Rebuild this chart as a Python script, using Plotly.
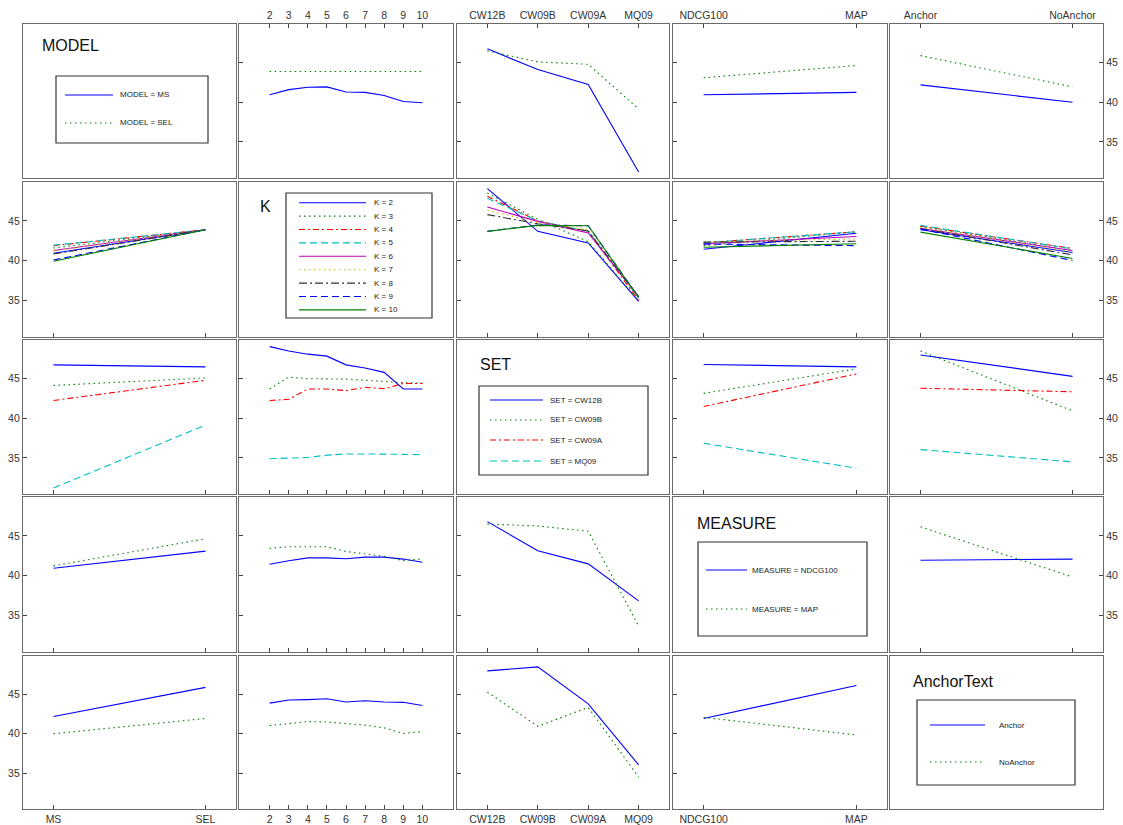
import plotly.graph_objects as go

W, H = 1123, 825

# ---------------- data ----------------
FACTORS = ["MODEL", "K", "SET", "MEASURE", "AnchorText"]
MODEL_LEVELS = ["MS", "SEL"]
K_LEVELS = [2, 3, 4, 5, 6, 7, 8, 9, 10]
SET_LEVELS = ["CW12B", "CW09B", "CW09A", "MQ09"]
MEASURE_LEVELS = ["NDCG100", "MAP"]
ANCHOR_LEVELS = ["Anchor", "NoAnchor"]

# MODEL x K  (rows: MODEL levels, cols: K levels)
MODEL_K_MS = [40.95, 41.6, 41.9, 41.95, 41.3, 41.25, 40.85, 40.1, 39.95]
MODEL_K_SEL = [43.9, 43.9, 43.9, 43.9, 43.9, 43.9, 43.9, 43.9, 43.9]
# MODEL x SET
MODEL_SET_MS = [46.75, 44.15, 42.25, 31.2]
MODEL_SET_SEL = [46.5, 45.1, 44.8, 39.15]
# MODEL x MEASURE
MODEL_MEASURE_MS = [40.95, 41.25]
MODEL_MEASURE_SEL = [43.1, 44.65]
# MODEL x AnchorText
MODEL_ANCHOR_MS = [42.2, 40.0]
MODEL_ANCHOR_SEL = [45.9, 41.95]
# SET x K (rows: SET levels, cols: K levels)
SET_K_CW12B = [49.05, 48.5, 48.1, 47.85, 46.75, 46.35, 45.8, 43.7, 43.7]
SET_K_CW09B = [43.7, 45.2, 45.0, 45.0, 44.95, 44.8, 44.65, 44.5, 44.45]
SET_K_CW09A = [42.25, 42.4, 43.7, 43.7, 43.5, 43.9, 43.75, 44.4, 44.4]
SET_K_MQ09 = [34.9, 34.95, 35.05, 35.35, 35.5, 35.5, 35.5, 35.45, 35.4]
# MEASURE x K
MEASURE_K_NDCG100 = [41.45, 41.9, 42.25, 42.25, 42.15, 42.35, 42.35, 42.1, 41.7]
MEASURE_K_MAP = [43.45, 43.65, 43.65, 43.65, 43.05, 42.75, 42.45, 41.9, 42.15]
# AnchorText x K
ANCHOR_K_ANCHOR = [43.9, 44.3, 44.35, 44.45, 44.05, 44.2, 44.05, 44.0, 43.6]
ANCHOR_K_NOANCHOR = [41.05, 41.3, 41.55, 41.5, 41.3, 41.1, 40.75, 40.05, 40.3]
# SET x MEASURE (rows: SET, cols: MEASURE)
SET_MEASURE_CW12B = [46.8, 46.5]
SET_MEASURE_CW09B = [43.15, 46.25]
SET_MEASURE_CW09A = [41.5, 45.6]
SET_MEASURE_MQ09 = [36.85, 33.7]
# SET x AnchorText
SET_ANCHOR_CW12B = [48.0, 45.3]
SET_ANCHOR_CW09B = [48.5, 40.95]
SET_ANCHOR_CW09A = [43.8, 43.35]
SET_ANCHOR_MQ09 = [36.05, 34.5]
# MEASURE x AnchorText
MEASURE_ANCHOR_NDCG100 = [41.95, 42.1]
MEASURE_ANCHOR_MAP = [46.15, 39.85]

Y_TICKS = [35, 40, 45]

LEVELS = [MODEL_LEVELS, K_LEVELS, SET_LEVELS, MEASURE_LEVELS, ANCHOR_LEVELS]
TABLES = {
    (0, 1): [MODEL_K_MS, MODEL_K_SEL],
    (0, 2): [MODEL_SET_MS, MODEL_SET_SEL],
    (0, 3): [MODEL_MEASURE_MS, MODEL_MEASURE_SEL],
    (0, 4): [MODEL_ANCHOR_MS, MODEL_ANCHOR_SEL],
    (2, 1): [SET_K_CW12B, SET_K_CW09B, SET_K_CW09A, SET_K_MQ09],
    (3, 1): [MEASURE_K_NDCG100, MEASURE_K_MAP],
    (4, 1): [ANCHOR_K_ANCHOR, ANCHOR_K_NOANCHOR],
    (2, 3): [SET_MEASURE_CW12B, SET_MEASURE_CW09B, SET_MEASURE_CW09A, SET_MEASURE_MQ09],
    (2, 4): [SET_ANCHOR_CW12B, SET_ANCHOR_CW09B, SET_ANCHOR_CW09A, SET_ANCHOR_MQ09],
    (3, 4): [MEASURE_ANCHOR_NDCG100, MEASURE_ANCHOR_MAP],
}


def get_table(r, c):
    if (r, c) in TABLES:
        return TABLES[(r, c)]
    t = TABLES[(c, r)]
    return [[t[j][i] for j in range(len(t))] for i in range(len(t[0]))]


# ---------------- styles ----------------
BLUE, GREEN, RED, CYAN, MAG, YEL, BLK = "#0000ff", "#008000", "#ff0000", "#00bfbf", "#bf00bf", "#bfbf00", "#333333"
DOT = "1.5px,3.5px"
DASH = "7px,4px"
DASHDOT = "6px,3px,2px,3px"
LDASHDOT = "8px,3px,2px,3px"
STYLE_CYCLE = [(BLUE, "solid"), (GREEN, DOT), (RED, DASHDOT), (CYAN, DASH), (MAG, "solid"),
               (YEL, DOT), (BLK, LDASHDOT), (BLUE, DASH), (GREEN, "solid")]

COLS = [(23, 236), (239, 453), (457, 669), (673, 887), (890, 1103)]
ROWS = [(24, 178), (182, 337), (340, 494), (497, 652), (656, 809)]
Y_RANGE = [30.44, 49.89]
FONT = "Liberation Sans, Arial, sans-serif"
FRAME = "#6a6a6a"


def pxx(x):
    return x / W


def pxy(y):
    return 1 - y / H


fig = go.Figure()
layout = dict(width=W, height=H, margin=dict(l=0, r=0, t=0, b=0), autosize=False,
              paper_bgcolor="white", plot_bgcolor="white", showlegend=False,
              font=dict(family=FONT, size=10, color="#333333"))

for r in range(5):
    for c in range(5):
        n = r * 5 + c + 1
        xa = "xaxis" if n == 1 else f"xaxis{n}"
        ya = "yaxis" if n == 1 else f"yaxis{n}"
        xr = "x" if n == 1 else f"x{n}"
        yr = "y" if n == 1 else f"y{n}"
        xdom = [pxx(COLS[c][0]), pxx(COLS[c][1])]
        ydom = [pxy(ROWS[r][1]), pxy(ROWS[r][0])]
        base = dict(showline=True, mirror=True, linecolor=FRAME, linewidth=1.3,
                    showgrid=False, zeroline=False, fixedrange=True)
        if r == c:
            layout[xa] = dict(base, domain=xdom, range=[0, 1], showticklabels=False, ticks="",
                              anchor=yr)
            layout[ya] = dict(base, domain=ydom, range=[0, 1], showticklabels=False, ticks="",
                              anchor=xr)
            # empty trace so the (frame-only) diagonal subplot is created
            fig.add_trace(go.Scatter(x=[], y=[], xaxis=xr, yaxis=yr, hoverinfo="skip",
                                     mode="lines"))
            continue
        # x axis
        levs = LEVELS[c]
        nl = len(levs)
        a = 30.5 * (nl - 1) / (213 - 61)
        if c == 1:
            xcfg = dict(type="linear", range=[2 - a, 10 + a], tickvals=K_LEVELS,
                        ticktext=[str(k) for k in K_LEVELS])
        else:
            xcfg = dict(type="category", categoryorder="array", categoryarray=levs,
                        range=[-a, nl - 1 + a])
        show_x = (r == 0) or (r == 4)
        layout[xa] = dict(base, domain=xdom, anchor=yr, ticks="inside", ticklen=4,
                          tickcolor="#444444", showticklabels=show_x,
                          side="top" if r == 0 else "bottom",
                          tickfont=dict(size=10.5, color="#333333", family=FONT), **xcfg)
        show_y = (c == 0) or (c == 4)
        layout[ya] = dict(base, domain=ydom, anchor=xr, range=Y_RANGE, tickvals=Y_TICKS,
                          ticks="inside", ticklen=4, tickcolor="#444444",
                          showticklabels=show_y, side="right" if c == 4 else "left",
                          tickfont=dict(size=10.5, color="#333333", family=FONT))
        table = get_table(r, c)
        for i, lev in enumerate(LEVELS[r]):
            col, dash = STYLE_CYCLE[i]
            fig.add_trace(go.Scatter(x=levs, y=table[i], mode="lines", xaxis=xr, yaxis=yr,
                                     line=dict(color=col, width=1.1, dash=dash),
                                     name=f"{FACTORS[r]} = {lev}", hoverinfo="x+y+name"))

# ---------------- diagonal labels and legends ----------------
shapes = []
annotations = []
DIAG = [
    dict(title=(40, 45), box=(56, 76, 208, 143), ys=[95, 123], lx=(65, 113), tx=118,
         labels=[f"MODEL = {v}" for v in MODEL_LEVELS]),
    dict(title=(258, 206), box=(286, 193, 432, 318),
         ys=[202.7 + i * 13.4 for i in range(len(K_LEVELS))], lx=(299, 366), tx=372,
         labels=[f"K = {v}" for v in K_LEVELS]),
    dict(title=(478, 365), box=(479, 386, 648, 475), ys=[400, 420, 440, 461], lx=(490, 543),
         tx=548, labels=[f"SET = {v}" for v in SET_LEVELS]),
    dict(title=(695, 523), box=(698, 542, 867, 636), ys=[570, 609], lx=(706, 747), tx=750,
         labels=[f"MEASURE = {v}" for v in MEASURE_LEVELS]),
    dict(title=(911, 681), box=(917, 700, 1075, 785), ys=[725, 762], lx=(930, 985), tx=997,
         labels=list(ANCHOR_LEVELS)),
]
for k, d in enumerate(DIAG):
    tx, ty = d["title"]
    annotations.append(dict(x=pxx(tx), y=pxy(ty), xref="paper", yref="paper", text=FACTORS[k],
                            showarrow=False, xanchor="left", yanchor="middle",
                            font=dict(size=16, color="#111111", family=FONT)))
    x0, y0, x1, y1 = d["box"]
    shapes.append(dict(type="rect", xref="paper", yref="paper", x0=pxx(x0), x1=pxx(x1),
                       y0=pxy(y1), y1=pxy(y0), line=dict(color="#333333", width=1.2)))
    for i, (yy, lab) in enumerate(zip(d["ys"], d["labels"])):
        col, dash = STYLE_CYCLE[i]
        shapes.append(dict(type="line", xref="paper", yref="paper", x0=pxx(d["lx"][0]),
                           x1=pxx(d["lx"][1]), y0=pxy(yy), y1=pxy(yy),
                           line=dict(color=col, width=1.1, dash=dash)))
        annotations.append(dict(x=pxx(d["tx"]), y=pxy(yy), xref="paper", yref="paper", text=lab,
                                showarrow=False, xanchor="left", yanchor="middle",
                                font=dict(size=8, color="#222222", family=FONT)))

layout["shapes"] = shapes
layout["annotations"] = annotations
fig.update_layout(**layout)
fig.write_html("out.html", config={"displayModeBar": False},
               post_script="document.body.style.margin='0';document.body.style.padding='0';")
